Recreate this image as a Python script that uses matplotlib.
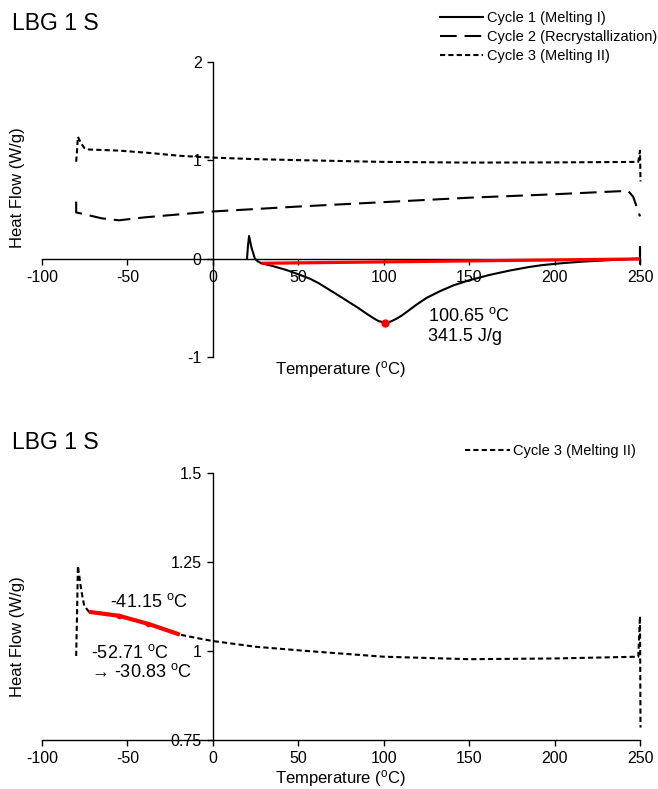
import matplotlib
matplotlib.use('Agg')
import matplotlib.pyplot as plt

plt.rcParams['font.family'] = ['Liberation Sans', 'DejaVu Sans']
plt.rcParams['mathtext.fontset'] = 'custom'
plt.rcParams['mathtext.rm'] = 'Liberation Sans'
plt.rcParams['mathtext.it'] = 'Liberation Sans:italic'
plt.rcParams['mathtext.bf'] = 'Liberation Sans:bold'
plt.rcParams['axes.unicode_minus'] = False

# Cycle 1 (Melting I)
c1_t = [20, 20.5, 21.2, 22.5, 24.6, 26.5, 28.5, 35, 43, 51, 57, 62, 68.5, 75, 80, 85, 90,
        94, 97, 100.65, 104, 107, 110, 114, 119, 125, 133, 141, 150, 162, 174, 185, 193,
        205, 216.5, 232, 248, 250, 250, 250]
c1_hf = [0, 0.12, 0.23, 0.12, 0.0, -0.03, -0.047, -0.075, -0.115, -0.165, -0.205, -0.25,
         -0.32, -0.39, -0.445, -0.50, -0.56, -0.605, -0.635, -0.65, -0.64, -0.615, -0.585,
         -0.535, -0.47, -0.40, -0.33, -0.27, -0.22, -0.165, -0.12, -0.085, -0.065, -0.045,
         -0.03, -0.015, 0.0, 0.0, 0.12, -0.05]

# Cycle 2 (Recrystallization)
c2_t = [-80, -80, -76, -65, -55, -40, -20, 0, 50, 100, 150, 200, 243, 246, 250]
c2_hf = [0.58, 0.47, 0.455, 0.41, 0.39, 0.42, 0.45, 0.48, 0.53, 0.575, 0.62, 0.655, 0.69, 0.63, 0.43]

# Cycle 3 (Melting II)
c3_t = [-80, -79.5, -79, -77, -75.3, -72.5, -55, -37, -19.3, -10, 0, 25, 50, 69, 100,
        150, 200, 249, 250, 250.3]
c3_hf = [0.986, 1.10, 1.239, 1.17, 1.127, 1.11, 1.099, 1.075, 1.046, 1.037, 1.028, 1.012,
         1.002, 0.995, 0.984, 0.977, 0.979, 0.984, 1.098, 0.785]

# melting peak baseline and peak
base_t = [28.5, 250]
base_hf = [-0.047, -0.003]
peak_t = [100.65]
peak_hf = [-0.65]

# glass transition region on cycle 3
tg_t = [-72.5, -55, -37, -19.3]
tg_hf = [1.11, 1.099, 1.075, 1.046]
tg_mark_t = [-55, -38]
tg_mark_hf = [1.099, 1.077]

xticks = [-100, -50, 0, 50, 100, 150, 200, 250]
yticks_top = [-1, 0, 1, 2]
yticks_bot = [0.75, 1, 1.25, 1.5]
ylabels_bot = ['0.75', '1', '1.25', '1.5']

deg = r'$^{\rm o}$C'
W, H = 658, 789

fig = plt.figure(figsize=(6.58, 7.89), dpi=100)
ax1 = fig.add_axes([42 / W, 1 - 357 / H, 598 / W, 295 / H])
ax2 = fig.add_axes([42 / W, 1 - 740 / H, 598 / W, 267 / H])

def style(ax, xzero):
    for s in ['top', 'right']:
        ax.spines[s].set_visible(False)
    ax.spines['left'].set_position(('data', 0))
    if xzero:
        ax.spines['bottom'].set_position(('data', 0))
    for s in ['left', 'bottom']:
        ax.spines[s].set_linewidth(1.0)
    ax.tick_params(direction='out', length=4, width=1.0, labelsize=11.5, pad=4)
    ax.set_xticks(xticks)
    ax.set_xlim(-100, 250)
    ax.patch.set_visible(False)

kw1 = dict(color='black', lw=1.5, clip_on=False)

# top panel
ax1.plot(c1_t, c1_hf, '-', label='Cycle 1 (Melting I)', **kw1)
ax1.plot(c2_t, c2_hf, dashes=(8, 3.8), label='Cycle 2 (Recrystallization)', **kw1)
ax1.plot(c3_t, c3_hf, dashes=(2.5, 1.5), label='Cycle 3 (Melting II)', **kw1)
ax1.plot(base_t, base_hf, color='red', lw=2.3, solid_capstyle='butt', zorder=3)
ax1.plot(peak_t, peak_hf, 'o', color='red', ms=5, zorder=4)
style(ax1, True)
ax1.set_ylim(-1, 2)
ax1.set_yticks(yticks_top)
ax1.text(125.8, -0.588, '100.65 ' + deg, fontsize=13, va='center', ha='left')
ax1.text(125.8, -0.79, '341.5 J/g', fontsize=13, va='center', ha='left')
fig.legend(handles=ax1.get_lines()[:3], loc='upper left', bbox_to_anchor=(440 / W, 1 - 11 / H),
           bbox_transform=fig.transFigure, frameon=False, fontsize=10.5, borderpad=0,
           borderaxespad=0, handlelength=2.95, handletextpad=0.25, labelspacing=0.33)

# bottom panel
l3, = ax2.plot(c3_t, c3_hf, dashes=(2.5, 1.5), label='Cycle 3 (Melting II)', **kw1)
ax2.plot(tg_t, tg_hf, color='red', lw=3, solid_capstyle='butt', zorder=3)
ax2.plot(tg_mark_t, tg_mark_hf, 'o', color='red', ms=3, zorder=4)
style(ax2, False)
ax2.set_ylim(0.75, 1.5)
ax2.set_yticks(yticks_bot)
ax2.set_yticklabels(ylabels_bot)
ax2.text(-60.4, 1.138, '-41.15 ' + deg, fontsize=13, va='center', ha='left')
ax2.text(-71.2, 0.995, '-52.71 ' + deg, fontsize=13, va='center', ha='left')
ax2.text(-71.2, 0.942, '\u2192 -30.83 ' + deg, fontsize=13, va='center', ha='left')
fig.legend(handles=[l3], loc='upper left', bbox_to_anchor=(465 / W, 1 - 444 / H),
           bbox_transform=fig.transFigure, frameon=False, fontsize=10.5, borderpad=0,
           borderaxespad=0, handlelength=3.1, handletextpad=0.2)

# titles and axis labels
for yp in [23.5, 442.5]:
    fig.text(12 / W, 1 - yp / H, 'LBG 1 S', fontsize=16.5, ha='left', va='center')
for yp in [188, 637]:
    fig.text(17.5 / W, 1 - yp / H, 'Heat Flow (W/g)', fontsize=12, rotation=90,
             ha='center', va='center')
for yp in [369, 778]:
    fig.text(340 / W, 1 - yp / H, 'Temperature (' + deg + ')', fontsize=12,
             ha='center', va='center')

fig.savefig('out.png', dpi=100)
